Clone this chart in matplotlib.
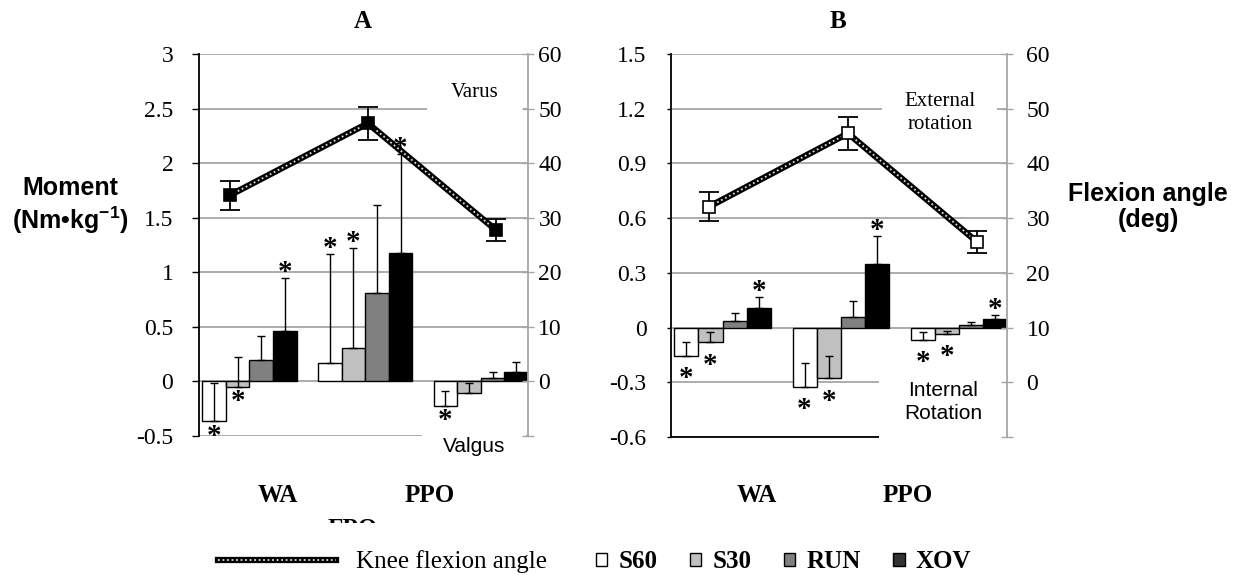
import matplotlib
matplotlib.use('Agg')
import matplotlib.pyplot as plt
import numpy as np
from matplotlib.lines import Line2D
from matplotlib.patches import Patch
from matplotlib.transforms import Bbox, TransformedBbox

plt.rcParams['font.family'] = ['Liberation Serif', 'DejaVu Serif']
plt.rcParams['mathtext.fontset'] = 'custom'
plt.rcParams['mathtext.rm'] = 'Liberation Sans:bold'
plt.rcParams['mathtext.bf'] = 'Liberation Sans:bold'

# ---- data ----
phases = ['WA', 'PPO', 'FPO']
series = ['S60', 'S30', 'RUN', 'XOV']
bar_colors = ['white', '#c0c0c0', '#808080', 'black']

# panel A: knee varus/valgus moment (Nm/kg), mean and SD
a_s60 = [-0.367, 0.165, -0.225]
a_s60_sd = [0.35, 1.00, 0.135]
a_s30 = [-0.05, 0.31, -0.11]
a_s30_sd = [0.27, 0.91, 0.10]
a_run = [0.20, 0.81, 0.035]
a_run_sd = [0.22, 0.81, 0.055]
a_xov = [0.46, 1.18, 0.09]
a_xov_sd = [0.49, 0.90, 0.09]
a_flex = [34.1, 47.3, 27.7]
a_flex_sd = [2.6, 3.0, 2.0]
a_stars = [('S60', 'WA', 'below'), ('S30', 'WA', 'below'), ('XOV', 'WA', 'above'),
           ('S60', 'PPO', 'above'), ('S30', 'PPO', 'above'), ('XOV', 'PPO', 'above'),
           ('S60', 'FPO', 'below')]

# panel B: knee rotation moment (Nm/kg)
b_s60 = [-0.156, -0.325, -0.068]
b_s60_sd = [0.076, 0.13, 0.043]
b_s30 = [-0.08, -0.277, -0.035]
b_s30_sd = [0.055, 0.122, 0.015]
b_run = [0.035, 0.058, 0.012]
b_run_sd = [0.045, 0.087, 0.018]
b_xov = [0.105, 0.35, 0.045]
b_xov_sd = [0.065, 0.15, 0.023]
b_flex = [32.1, 45.5, 25.7]
b_flex_sd = [2.6, 3.0, 2.0]
b_stars = [('S60', 'WA', 'below'), ('S30', 'WA', 'below'), ('XOV', 'WA', 'above'),
           ('S60', 'PPO', 'below'), ('S30', 'PPO', 'below'), ('XOV', 'PPO', 'above'),
           ('S60', 'FPO', 'below'), ('S30', 'FPO', 'below'), ('XOV', 'FPO', 'above')]

W, H = 1243, 575
GRID = '#a6a6a6'
STAR_FS = 21


def fig_rect(x0, y0, x1, y1):
    return [x0 / W, 1 - y1 / H, (x1 - x0) / W, (y1 - y0) / H]


def draw_panel(ax, bars, sds, flex, flex_sd, stars, yticks, line_x, filled,
               lpad, lticklen, rpad, below_off):
    ax.set_xlim(-0.5, 2.5)
    ax.set_ylim(yticks[0], yticks[-1])
    for t in yticks:
        ax.axhline(t, color=GRID, lw=1.3, zorder=0.5)

    centers = np.arange(3) * 1.055 - 0.04
    width = 0.215
    for i, (vals, sd) in enumerate(zip(bars, sds)):
        x = centers + (i - 1.5) * width
        ax.bar(x, vals, width, color=bar_colors[i], edgecolor='black', lw=1.0,
               yerr=[np.zeros(3), sd], capsize=2.9,
               error_kw=dict(ecolor='black', elinewidth=1.0, capthick=1.0, zorder=2.1),
               zorder=2)

    for s, p, side in stars:
        i, j = series.index(s), phases.index(p)
        x = centers[j] + (i - 1.5) * width
        if side == 'above':
            y, dy = bars[i][j] + sds[i][j], 9.5 - 0.52 * STAR_FS
        else:
            y, dy = bars[i][j], -below_off - 0.52 * STAR_FS
        ax.annotate('*', xy=(x, y), xytext=(0, dy), textcoords='offset points',
                    ha='center', va='baseline', fontsize=STAR_FS, fontweight='bold',
                    zorder=3)

    ax.set_xticks([])
    ax.set_yticks(yticks)
    ax.set_yticklabels([('%g' % t) for t in yticks])
    ax.tick_params(axis='y', direction='out', length=lticklen, width=1.0,
                   pad=lpad, labelsize=17, colors='black')
    for sp in ['top', 'right', 'bottom']:
        ax.spines[sp].set_visible(False)
    ax.spines['left'].set_color('black')
    ax.spines['left'].set_linewidth(1.3)

    ax2 = ax.twinx()
    ax2.set_ylim(-10, 60)
    ax2.set_yticks(np.arange(-10, 61, 10))
    ax2.set_yticklabels([''] + [str(v) for v in range(0, 61, 10)])
    ax2.tick_params(axis='y', direction='inout', length=8, width=1.0, pad=rpad,
                    labelsize=17, color=GRID, labelcolor='black')
    for sp in ['top', 'left', 'bottom']:
        ax2.spines[sp].set_visible(False)
    ax2.spines['right'].set_color(GRID)
    ax2.spines['right'].set_linewidth(1.3)

    ax2.errorbar(line_x, flex, yerr=flex_sd, fmt='none', ecolor='black',
                 elinewidth=1.3, capsize=7.5, capthick=1.3, zorder=3)
    ax2.plot(line_x, flex, color='black', lw=4.5, zorder=4, solid_capstyle='butt')
    ax2.plot(line_x, flex, color='#dcdcdc', lw=1.3, ls=(0, (1, 1.5)), zorder=5)
    ax2.plot(line_x, flex, ls='none', marker='s', markersize=8,
             markerfacecolor='black' if filled else 'white',
             markeredgecolor='black', markeredgewidth=1.2, zorder=6)
    return ax2


fig = plt.figure(figsize=(W / 100, H / 100), dpi=100)

axA = fig.add_axes(fig_rect(199, 54, 528, 436))
draw_panel(axA, [a_s60, a_s30, a_run, a_xov], [a_s60_sd, a_s30_sd, a_run_sd, a_xov_sd],
           a_flex, a_flex_sd, a_stars, np.round(np.arange(-0.5, 3.01, 0.5), 2),
           [-0.22, 1.04, 2.21], True, 13.5, 5, 3.5, 5)

axB = fig.add_axes(fig_rect(671, 54, 1007, 437))
draw_panel(axB, [b_s60, b_s30, b_run, b_xov], [b_s60_sd, b_s30_sd, b_run_sd, b_xov_sd],
           b_flex, b_flex_sd, b_stars, np.round(np.arange(-0.6, 1.51, 0.3), 2),
           [-0.16, 1.08, 2.23], False, 14.5, 3, 10, 11)
axB.spines['bottom'].set_visible(True)
axB.spines['bottom'].set_color('black')
axB.spines['bottom'].set_linewidth(1.3)
axB.spines['bottom'].set_zorder(0.6)

# text boxes inside the panels (white boxes hide the gridlines like the original)
axA.text(0.839, 0.90, 'Varus', transform=axA.transAxes, ha='center', va='center',
         fontsize=15, zorder=1,
         bbox=dict(facecolor='white', edgecolor='none', boxstyle='square,pad=1.15'))
axA.text(0.835, -0.028, 'Valgus', transform=axA.transAxes, ha='center', va='center',
         fontsize=15, family='Liberation Sans', zorder=1,
         bbox=dict(facecolor='white', edgecolor='none', boxstyle='square,pad=1.0'))
axB.text(0.80, 0.845, 'External\nrotation', transform=axB.transAxes, ha='center',
         va='center', fontsize=15, linespacing=1.3, zorder=1,
         bbox=dict(facecolor='white', edgecolor='none', boxstyle='square,pad=1.06'))
axB.text(0.81, 0.092, 'Internal\nRotation', transform=axB.transAxes, ha='center',
         va='center', fontsize=15, family='Liberation Sans', linespacing=1.3, zorder=1,
         bbox=dict(facecolor='white', edgecolor='none', boxstyle='square,pad=1.2'))

# titles and axis labels
fig.text(363 / W, 1 - 22 / H, 'A', ha='center', va='center', fontsize=18, fontweight='bold')
fig.text(838 / W, 1 - 22 / H, 'B', ha='center', va='center', fontsize=18, fontweight='bold')
fig.text(70 / W, 1 - 188 / H, 'Moment', ha='center', va='center', fontsize=18,
         fontweight='bold', family='Liberation Sans')
fig.text(70 / W, 1 - 220 / H, r'(Nm•kg$^{\mathbf{-1}}$)', ha='center', va='center',
         fontsize=18, fontweight='bold', family='Liberation Sans')
fig.text(1148 / W, 1 - 207 / H, 'Flexion angle\n(deg)', ha='center', va='center',
         fontsize=18, fontweight='bold', family='Liberation Sans', linespacing=1.15)

# category labels (placed as in the original figure)
for lab, x in [('WA', 278), ('PPO', 430), ('WA', 757), ('PPO', 908)]:
    fig.text(x / W, 1 - 496 / H, lab, ha='center', va='center', fontsize=18,
             fontweight='bold')
t = fig.text(353 / W, 1 - 529 / H, 'FPO', ha='center', va='center', fontsize=18,
             fontweight='bold')
t.set_clip_box(TransformedBbox(Bbox([[0, 1 - 523 / H], [1, 1]]), fig.transFigure))
t.set_clip_on(True)

# legend
h_line = (Line2D([], [], color='black', lw=4.5),
          Line2D([], [], color='#dcdcdc', lw=1.3, ls=(0, (1, 1.5))))
fig.legend([h_line], ['Knee flexion angle'], loc='center left',
           bbox_to_anchor=(218 / W, 1 - 562 / H), frameon=False,
           prop={'family': 'Liberation Serif', 'size': 18},
           handlelength=4.7, handletextpad=0.8, borderpad=0, borderaxespad=0)
patches = [Patch(facecolor=c, edgecolor='black', lw=1.0) for c in bar_colors]
patches[3] = Patch(facecolor='#333333', edgecolor='black', lw=1.0)
fig.legend(patches, series, loc='center left', bbox_to_anchor=(596 / W, 1 - 562 / H),
           ncol=4, frameon=False, prop={'family': 'Liberation Serif', 'size': 18,
                                        'weight': 'bold'},
           handlelength=0.45, handleheight=0.45, handletextpad=0.45,
           columnspacing=1.3, borderpad=0, borderaxespad=0)

fig.savefig('out.png', dpi=100)
